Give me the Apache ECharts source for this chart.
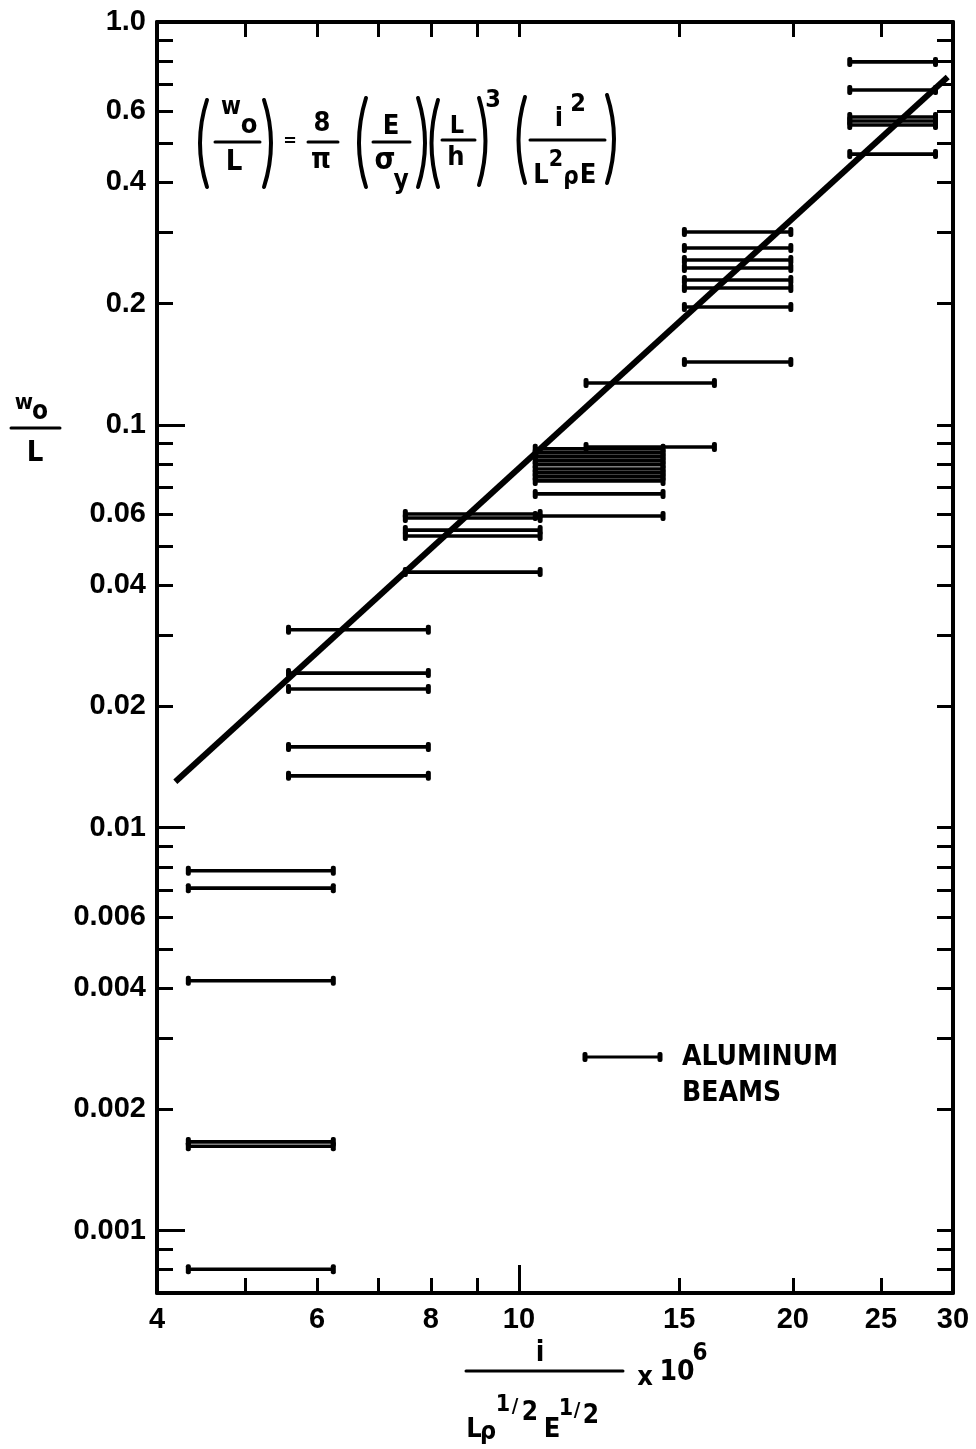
<!DOCTYPE html>
<html>
<head>
<meta charset="utf-8">
<script src="https://cdn.jsdelivr.net/npm/echarts@6/dist/echarts.min.js"></script>
<style>
html,body{margin:0;padding:0;background:#fff;}
#chart{width:976px;height:1449px;}
</style>
</head>
<body>
<div id="chart"></div>
<script>
// ---------- DATA ----------
// x-range (i / (L rho^1/2 E^1/2) x 10^6) of each group of aluminum beam bars
const groupXStart = [4.33, 5.58, 7.5, 10.42, 11.85, 15.2, 23.1];
const groupXEnd   = [6.25, 7.95, 10.55, 14.4, 16.4, 19.9, 28.7];
// w0/L values of the bars in each group
const groupA_ratio = [0.00782, 0.00708, 0.00417, 0.00166, 0.00162, 0.000802];
const groupB_ratio = [0.0310, 0.0242, 0.0221, 0.01587, 0.01345];
const groupC_ratio = [0.0601, 0.0587, 0.0548, 0.0530, 0.0431];
const groupD_ratio = [0.0872, 0.0852, 0.0833, 0.0814, 0.0796, 0.0777, 0.0760, 0.0743, 0.0726, 0.0674, 0.0594];
const groupE_ratio = [0.127, 0.0881];
const groupF_ratio = [0.3012, 0.2748, 0.2566, 0.2451, 0.2289, 0.2186, 0.1962, 0.1432];
const groupG_ratio = [0.796, 0.678, 0.581, 0.568, 0.555, 0.470];
// theoretical line (w0/L) = 8/pi (E/sy)(L/h)^3 (i^2/(L^2 rho E))
const fitX = [4.19, 29.6];
const fitY = [0.013, 0.73];
// axis ticks / labels
const xLabelValues = [4, 6, 8, 10, 15, 20, 25, 30];
const xTickValues = [5, 6, 7, 8, 9, 15, 20, 25];
const xLongTickValues = [10];
const xTopTickValues = [5, 6, 7, 8, 9, 10, 15, 20, 25];
const yLabelValues = [0.001, 0.002, 0.004, 0.006, 0.01, 0.02, 0.04, 0.06, 0.1, 0.2, 0.4, 0.6, 1];
const yTickValues = [0.0008, 0.0009, 0.002, 0.003, 0.004, 0.005, 0.006, 0.007, 0.008, 0.009,
  0.02, 0.03, 0.04, 0.05, 0.06, 0.07, 0.08, 0.09,
  0.2, 0.3, 0.4, 0.5, 0.6, 0.7, 0.8, 0.9];
const yLongTickValues = [0.001, 0.01, 0.1];
const yRightTickValues = [0.0008, 0.0009, 0.001, 0.002, 0.003, 0.004, 0.005, 0.006, 0.007, 0.008, 0.009,
  0.01, 0.02, 0.03, 0.04, 0.05, 0.06, 0.07, 0.08, 0.09,
  0.1, 0.2, 0.3, 0.4, 0.5, 0.6, 0.7, 0.8, 0.9];

// ---------- build bar table ----------
const groups = [groupA_ratio, groupB_ratio, groupC_ratio, groupD_ratio, groupE_ratio, groupF_ratio, groupG_ratio];
const barData = [];
groups.forEach((g, gi) => g.forEach(r => barData.push([groupXStart[gi], groupXEnd[gi], r])));

const FONT = "'DejaVu Sans Condensed', 'DejaVu Sans', sans-serif";
const TICK_FONT = "'Liberation Sans', Arial, sans-serif";
const INK = '#000';

function fmtY(v) {
  if (v >= 0.999) return '1.0';
  return String(+(+v).toPrecision(2));
}
function fmtX(v) { return String(Math.round(v)); }

const baseX = {
  type: 'log', min: 4, max: 30, logBase: 10, gridIndex: 0,
  splitLine: { show: false }, minorTick: { show: false }, minorSplitLine: { show: false }
};
const baseY = {
  type: 'log', min: 0.0007, max: 1, logBase: 10, gridIndex: 0,
  splitLine: { show: false }, minorTick: { show: false }, minorSplitLine: { show: false }
};

const xAxes = [
  Object.assign({}, baseX, {
    position: 'bottom',
    axisLine: { show: true, onZero: false, lineStyle: { color: INK, width: 4 } },
    axisTick: { show: true, inside: true, length: 15, lineStyle: { color: INK, width: 3 }, customValues: xTickValues },
    axisLabel: { show: true, customValues: xLabelValues, formatter: fmtX, color: INK, margin: 12,
      fontFamily: TICK_FONT, fontWeight: 'bold', fontSize: 29, showMinLabel: true, showMaxLabel: true }
  }),
  Object.assign({}, baseX, {
    position: 'bottom',
    axisLine: { show: false, onZero: false },
    axisTick: { show: true, inside: true, length: 28, lineStyle: { color: INK, width: 3 }, customValues: xLongTickValues },
    axisLabel: { show: false }
  }),
  Object.assign({}, baseX, {
    position: 'top',
    axisLine: { show: true, onZero: false, lineStyle: { color: INK, width: 4 } },
    axisTick: { show: true, inside: true, length: 15, lineStyle: { color: INK, width: 3 }, customValues: xTopTickValues },
    axisLabel: { show: false }
  })
];
const yAxes = [
  Object.assign({}, baseY, {
    position: 'left',
    axisLine: { show: true, onZero: false, lineStyle: { color: INK, width: 4 } },
    axisTick: { show: true, inside: true, length: 16, lineStyle: { color: INK, width: 3 }, customValues: yTickValues },
    axisLabel: { show: true, customValues: yLabelValues, formatter: fmtY, color: INK, margin: 11,
      fontFamily: TICK_FONT, fontWeight: 'bold', fontSize: 29, showMinLabel: true, showMaxLabel: true }
  }),
  Object.assign({}, baseY, {
    position: 'left',
    axisLine: { show: false, onZero: false },
    axisTick: { show: true, inside: true, length: 28, lineStyle: { color: INK, width: 3 }, customValues: yLongTickValues },
    axisLabel: { show: false }
  }),
  Object.assign({}, baseY, {
    position: 'right',
    axisLine: { show: true, onZero: false, lineStyle: { color: INK, width: 4 } },
    axisTick: { show: true, inside: true, length: 16, lineStyle: { color: INK, width: 3 }, customValues: yRightTickValues },
    axisLabel: { show: false }
  })
];

// ---------- annotation helpers (formula, axis titles, legend) ----------
function T(text, x, y, size, align, weight) {
  return {
    type: 'text', silent: true,
    style: { text: text, x: x, y: y, fill: INK, font: (weight || 'bold') + ' ' + size + 'px ' + FONT,
      align: align || 'center', verticalAlign: 'middle', textAlign: align || 'center', textVerticalAlign: 'middle' }
  };
}
function L(x1, y1, x2, y2, w) {
  return { type: 'line', silent: true, shape: { x1: x1, y1: y1, x2: x2, y2: y2 },
    style: { stroke: INK, lineWidth: w || 3, lineCap: 'round' } };
}
function P(xTop, yTop, xBot, yBot, cpx, cpy) {
  return { type: 'bezierCurve', silent: true,
    shape: { x1: xTop, y1: yTop, x2: xBot, y2: yBot, cpx1: cpx, cpy1: cpy },
    style: { stroke: INK, lineWidth: 4, fill: null, lineCap: 'round' } };
}
function capRect(x, y) {
  return { type: 'rect', silent: true, shape: { x: x - 2.5, y: y - 5, width: 5, height: 10, r: 2 }, style: { fill: INK } };
}

const graphics = [
  // formula
  P(207, 100, 207, 187, 193, 143), P(264, 100, 264, 187, 278, 143),
  T('w', 231, 108, 24), T('o', 249, 126, 27), L(215, 142, 260, 142), T('L', 234, 162, 29),
  T('=', 290, 141, 18),
  T('8', 322, 124, 27), L(308, 142, 338, 142), T('π', 321, 161, 28),
  P(366, 98, 366, 187, 352, 143), P(418, 98, 418, 187, 432, 143),
  T('E', 391, 127, 27), L(373, 142, 410, 142), T('σ', 385, 161, 30), T('y', 401, 181, 26),
  P(438, 100, 438, 187, 425, 143), P(479, 98, 479, 185, 492, 141),
  T('L', 457, 126, 25), L(442, 140, 475, 140), T('h', 456, 158, 27),
  T('3', 493, 100, 25),
  P(525, 97, 525, 183, 512, 140), P(607, 95, 607, 183, 621, 139),
  T('i', 559, 119, 27), T('2', 578, 104, 25), L(530, 140, 605, 140),
  T('L', 541, 176, 27), T('2', 556, 160, 23), T('ρ', 571, 178, 24), T('E', 588, 176, 27),
  // y-axis title
  T('w', 24, 403, 22), T('o', 40, 412, 26), L(11, 428, 60, 428), T('L', 35, 453, 29),
  // x-axis title
  T('i', 540, 1354, 28), L(466, 1371, 623, 1371), T('x', 645, 1378, 27), T('10', 677, 1373, 28), T('6', 700, 1354, 24),
  T('L', 474, 1430, 27), T('ρ', 488, 1432, 25),
  T('1', 503, 1405, 23), T('/', 515, 1407, 20), T('2', 530, 1413, 26),
  T('E', 552, 1430, 27),
  T('1', 566, 1409, 23), T('/', 577, 1411, 20), T('2', 591, 1416, 26),
  // legend
  L(585, 1057, 660, 1057, 3), capRect(585, 1057), capRect(660, 1057),
  T('ALUMINUM', 682, 1058, 28, 'left', 'bold'),
  T('BEAMS', 682, 1094, 28, 'left', 'bold')
];

const chart = echarts.init(document.getElementById('chart'), null, { renderer: 'canvas' });
chart.setOption({
  backgroundColor: '#fff',
  animation: false,
  grid: { left: 157, right: 23, top: 22, bottom: 156, containLabel: false },
  xAxis: xAxes,
  yAxis: yAxes,
  series: [
    {
      type: 'custom',
      name: 'ALUMINUM BEAMS',
      coordinateSystem: 'cartesian2d',
      xAxisIndex: 0, yAxisIndex: 0,
      encode: { x: [0, 1], y: 2 },
      data: barData,
      renderItem: function (params, api) {
        const a = api.coord([api.value(0), api.value(2)]);
        const b = api.coord([api.value(1), api.value(2)]);
        return {
          type: 'group',
          children: [
            { type: 'line', shape: { x1: a[0], y1: a[1], x2: b[0], y2: b[1] }, style: { stroke: INK, lineWidth: 3.6 } },
            { type: 'rect', shape: { x: a[0] - 2.5, y: a[1] - 5, width: 5, height: 10, r: 2 }, style: { fill: INK } },
            { type: 'rect', shape: { x: b[0] - 2.5, y: b[1] - 5, width: 5, height: 10, r: 2 }, style: { fill: INK } }
          ]
        };
      }
    },
    {
      type: 'line',
      name: 'theory',
      xAxisIndex: 0, yAxisIndex: 0,
      data: fitX.map((x, i) => [x, fitY[i]]),
      showSymbol: false, symbol: 'none',
      lineStyle: { color: INK, width: 6 },
      z: 5
    }
  ],
  graphic: graphics
});
</script>
</body>
</html>
